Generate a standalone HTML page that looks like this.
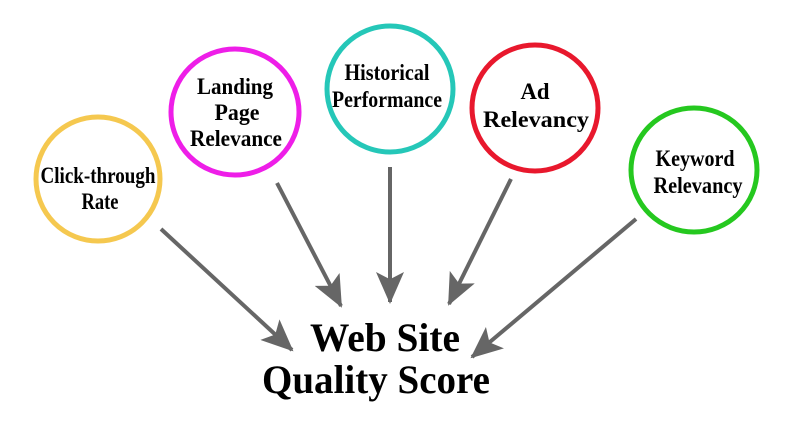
<!DOCTYPE html>
<html><head><meta charset="utf-8"><style>
html,body{margin:0;padding:0;background:#fff;}
svg{display:block;}
text{font-family:"Liberation Serif",serif;font-weight:bold;fill:#000;text-anchor:middle;}
</style></head><body>
<svg width="800" height="439" viewBox="0 0 800 439" xmlns="http://www.w3.org/2000/svg">
<defs>
<marker id="ah" markerWidth="8" markerHeight="7" refX="7.5" refY="3.5" orient="auto" markerUnits="strokeWidth">
<path d="M0,0 L8,3.5 L0,7 L1.8,3.5 Z" fill="#666"/>
</marker>
</defs>
<g fill="none" stroke-width="5">
<ellipse cx="98" cy="179" rx="62" ry="62" stroke="#f5c84f"/>
<ellipse cx="235" cy="112" rx="64" ry="63" stroke="#ee1ee8"/>
<ellipse cx="390" cy="89" rx="63" ry="63" stroke="#25c7b8"/>
<ellipse cx="535" cy="108" rx="63" ry="63" stroke="#e8182d"/>
<ellipse cx="694" cy="170" rx="63" ry="62" stroke="#25c81f"/>
</g>
<g stroke="#666" stroke-width="4" fill="none" marker-end="url(#ah)">
<line x1="161" y1="229" x2="292" y2="350"/>
<line x1="277" y1="183" x2="341" y2="306"/>
<line x1="390" y1="167" x2="390" y2="302"/>
<line x1="511" y1="179" x2="449" y2="304"/>
<line x1="636" y1="219" x2="472" y2="357"/>
</g>
<g font-size="23">
<text x="98" y="183" textLength="115" lengthAdjust="spacingAndGlyphs">Click-through</text>
<text x="100" y="209" textLength="37" lengthAdjust="spacingAndGlyphs">Rate</text>
<text x="235" y="94" textLength="76" lengthAdjust="spacingAndGlyphs">Landing</text>
<text x="237" y="120" textLength="45" lengthAdjust="spacingAndGlyphs">Page</text>
<text x="236" y="146" textLength="92" lengthAdjust="spacingAndGlyphs">Relevance</text>
<text x="387" y="80" textLength="85" lengthAdjust="spacingAndGlyphs">Historical</text>
<text x="387" y="107" textLength="110" lengthAdjust="spacingAndGlyphs">Performance</text>
<text x="535" y="99" textLength="29" lengthAdjust="spacingAndGlyphs">Ad</text>
<text x="536" y="127" textLength="106" lengthAdjust="spacingAndGlyphs">Relevancy</text>
<text x="695" y="166" textLength="79" lengthAdjust="spacingAndGlyphs">Keyword</text>
<text x="698" y="193" textLength="89" lengthAdjust="spacingAndGlyphs">Relevancy</text>
</g>
<text x="385" y="351" font-size="40" textLength="150" lengthAdjust="spacingAndGlyphs">Web Site</text>
<text x="376" y="393" font-size="40" textLength="228" lengthAdjust="spacingAndGlyphs">Quality Score</text>
</svg>
</body></html>
